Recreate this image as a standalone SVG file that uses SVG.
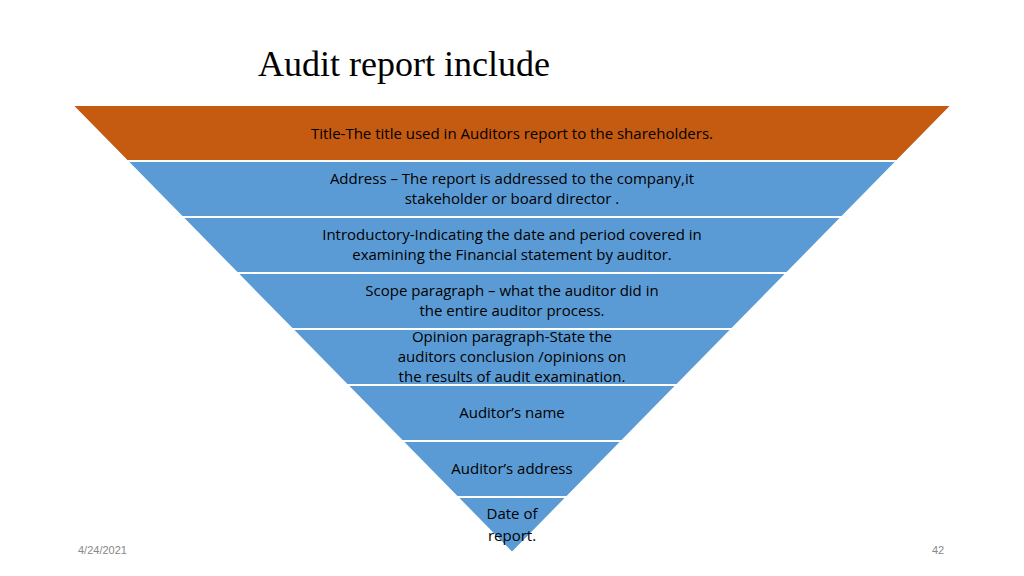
<svg xmlns="http://www.w3.org/2000/svg" width="1024" height="576" viewBox="0 0 1024 576">
<style>
.b{fill:#5b9bd5;stroke:#fff;stroke-width:2}
.t{font-family:"Open Sans","Liberation Sans",sans-serif;font-size:15px;fill:#000;text-anchor:middle}
.s{font-family:"Liberation Sans",sans-serif;font-size:11px;fill:#888}
</style>
<rect width="1024" height="576" fill="#fff"/>
<text x="258" y="76" font-family="Liberation Serif,serif" font-size="36" fill="#000">Audit report include</text>
<g id="n1"><polygon points="72,105 952,105 897,161 127,161" fill="#c55a11" stroke="#fff" stroke-width="2"/><text class="t" x="512" y="139">Title-The title used in Auditors report to the shareholders.</text></g>
<g id="n2"><polygon class="b" points="127,161 897,161 842,217 182,217"/><text class="t" x="512" y="184">Address – The report is addressed to the company,it</text><text class="t" x="512" y="204">stakeholder or board director .</text></g>
<g id="n3"><polygon class="b" points="182,217 842,217 787,273 237,273"/><text class="t" x="512" y="240">Introductory-Indicating the date and period covered in</text><text class="t" x="512" y="260">examining the Financial statement by auditor.</text></g>
<g id="n4"><polygon class="b" points="237,273 787,273 732,329 292,329"/><text class="t" x="512" y="296">Scope paragraph – what the auditor did in</text><text class="t" x="512" y="316">the entire auditor process.</text></g>
<g id="n5"><polygon class="b" points="292,329 732,329 677,385 347,385"/><text class="t" x="512" y="342">Opinion paragraph-State the</text><text class="t" x="512" y="362">auditors conclusion /opinions on</text><text class="t" x="512" y="382">the results of audit examination.</text></g>
<g id="n6"><polygon class="b" points="347,385 677,385 622,441 402,441"/><text class="t" x="512" y="418">Auditor’s name</text></g>
<g id="n7"><polygon class="b" points="402,441 622,441 567,497 457,497"/><text class="t" x="512" y="474">Auditor’s address</text></g>
<g id="n8"><polygon class="b" points="457,497 567,497 512,553"/><text class="t" x="512" y="519">Date of</text><text class="t" x="512" y="541">report.</text></g>
<g id="connectors"/>
<text class="s" x="78" y="554">4/24/2021</text>
<text class="s" x="932" y="554">42</text>
</svg>
